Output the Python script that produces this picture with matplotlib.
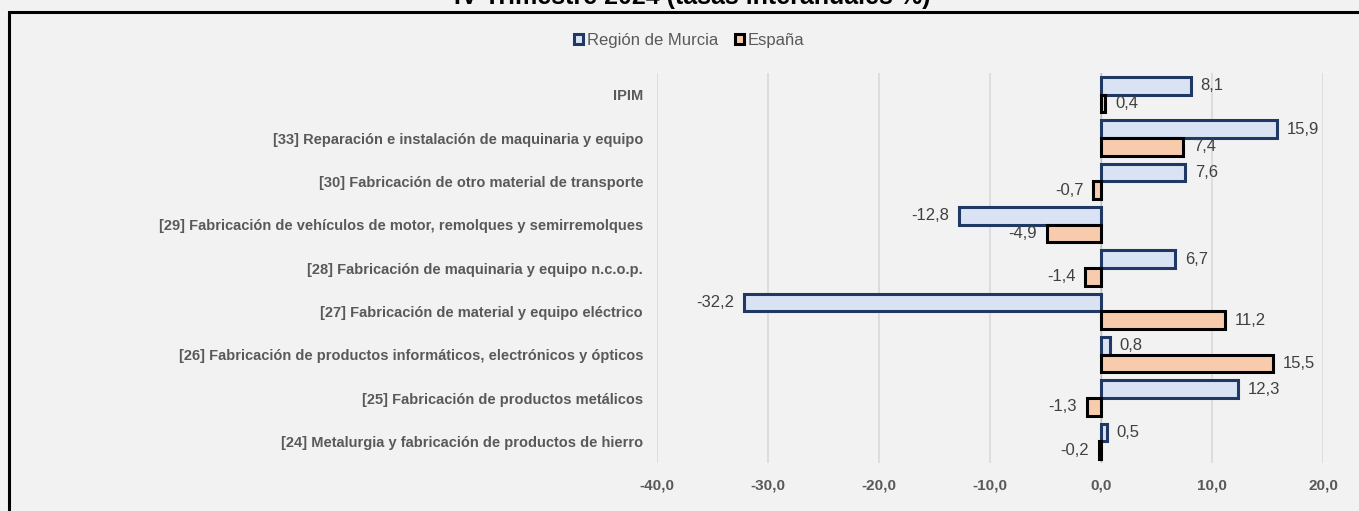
import numpy as np
import matplotlib
matplotlib.use("Agg")
import matplotlib.pyplot as plt
from matplotlib.patches import Patch, Rectangle

# data
categories = [
    "IPIM",
    "[33] Reparación e instalación de maquinaria y equipo",
    "[30] Fabricación de otro material de transporte",
    "[29] Fabricación de vehículos de motor, remolques y semirremolques",
    "[28] Fabricación de maquinaria y equipo n.c.o.p.",
    "[27] Fabricación de material y equipo eléctrico",
    "[26] Fabricación de productos informáticos, electrónicos y ópticos",
    "[25] Fabricación de productos metálicos",
    "[24] Metalurgia y fabricación de productos de hierro",
]
murcia = [8.1, 15.9, 7.6, -12.8, 6.7, -32.2, 0.8, 12.3, 0.5]
espana = [0.4, 7.4, -0.7, -4.9, -1.4, 11.2, 15.5, -1.3, -0.2]
xticks = [-40, -30, -20, -10, 0, 10, 20]
title = "IV Trimestre 2024 (tasas interanuales %)"

plt.rcParams['font.family'] = ['Liberation Sans', 'DejaVu Sans']
bg = "#F2F2F2"

fig = plt.figure(figsize=(13.59, 5.11), dpi=100, facecolor=bg)
ax = fig.add_axes([657 / 1359, 1 - 463 / 511, (1323 - 657) / 1359, 390 / 511])
ax.set_facecolor(bg)

y = np.arange(len(categories))
h = 0.41
ax.barh(y - h / 2, murcia, height=h, color="#DAE3F3", edgecolor="#1F3864",
        linewidth=2.2, label="Región de Murcia", zorder=3)
ax.barh(y + h / 2, espana, height=h, color="#F8CBAD", edgecolor="black",
        linewidth=2.2, label="España", zorder=3)

def fmt(v):
    return f"{v:.1f}".replace(".", ",")

for yy, v in zip(y - h / 2, murcia):
    ax.annotate(fmt(v), (v, yy), xytext=(7 if v >= 0 else -7, 0),
                textcoords="offset points", va="center",
                ha="left" if v >= 0 else "right", fontsize=12, color="#404040")
for yy, v in zip(y + h / 2, espana):
    ax.annotate(fmt(v), (v, yy), xytext=(7 if v >= 0 else -7, 0),
                textcoords="offset points", va="center",
                ha="left" if v >= 0 else "right", fontsize=12, color="#404040")

ax.set_xlim(-40, 20)
ax.set_ylim(len(categories) - 0.5, -0.5)
ax.set_xticks(xticks)
ax.set_xticklabels([fmt(t) for t in xticks], fontsize=11, fontweight="bold", color="#595959")
ax.set_yticks(y)
ax.set_yticklabels(categories, fontsize=10.5, fontweight="bold", color="#595959")
ax.tick_params(axis="both", length=0)
ax.tick_params(axis="y", pad=10)
ax.tick_params(axis="x", pad=11)
ax.grid(axis="x", color="#D9D9D9", linewidth=1.2, zorder=0)
for s in ax.spines.values():
    s.set_visible(False)
ax.axvline(0, color="#BFBFBF", linewidth=1, zorder=2)

handles = [Patch(facecolor="#DAE3F3", edgecolor="#1F3864", linewidth=2.2, label="Región de Murcia"),
           Patch(facecolor="#F8CBAD", edgecolor="black", linewidth=2.2, label="España")]
fig.legend(handles=handles, loc="center", bbox_to_anchor=(689 / 1359, 1 - 40 / 511),
           ncol=2, frameon=False, fontsize=12, handlelength=0.55, handleheight=0.55,
           handletextpad=0.2, columnspacing=1.0, labelcolor="#595959")

# outer frame and clipped title
fig.patches.append(Rectangle((9 / 1359, -0.05), 1.1, 1.05 - 12 / 511, transform=fig.transFigure,
                             fill=False, edgecolor="black", linewidth=2.2))
fig.text(692 / 1359, 1 - 4 / 511, title, ha="center", va="baseline",
         fontsize=18, fontweight="bold", color="black")

fig.savefig("out.png", dpi=100, facecolor=bg)
